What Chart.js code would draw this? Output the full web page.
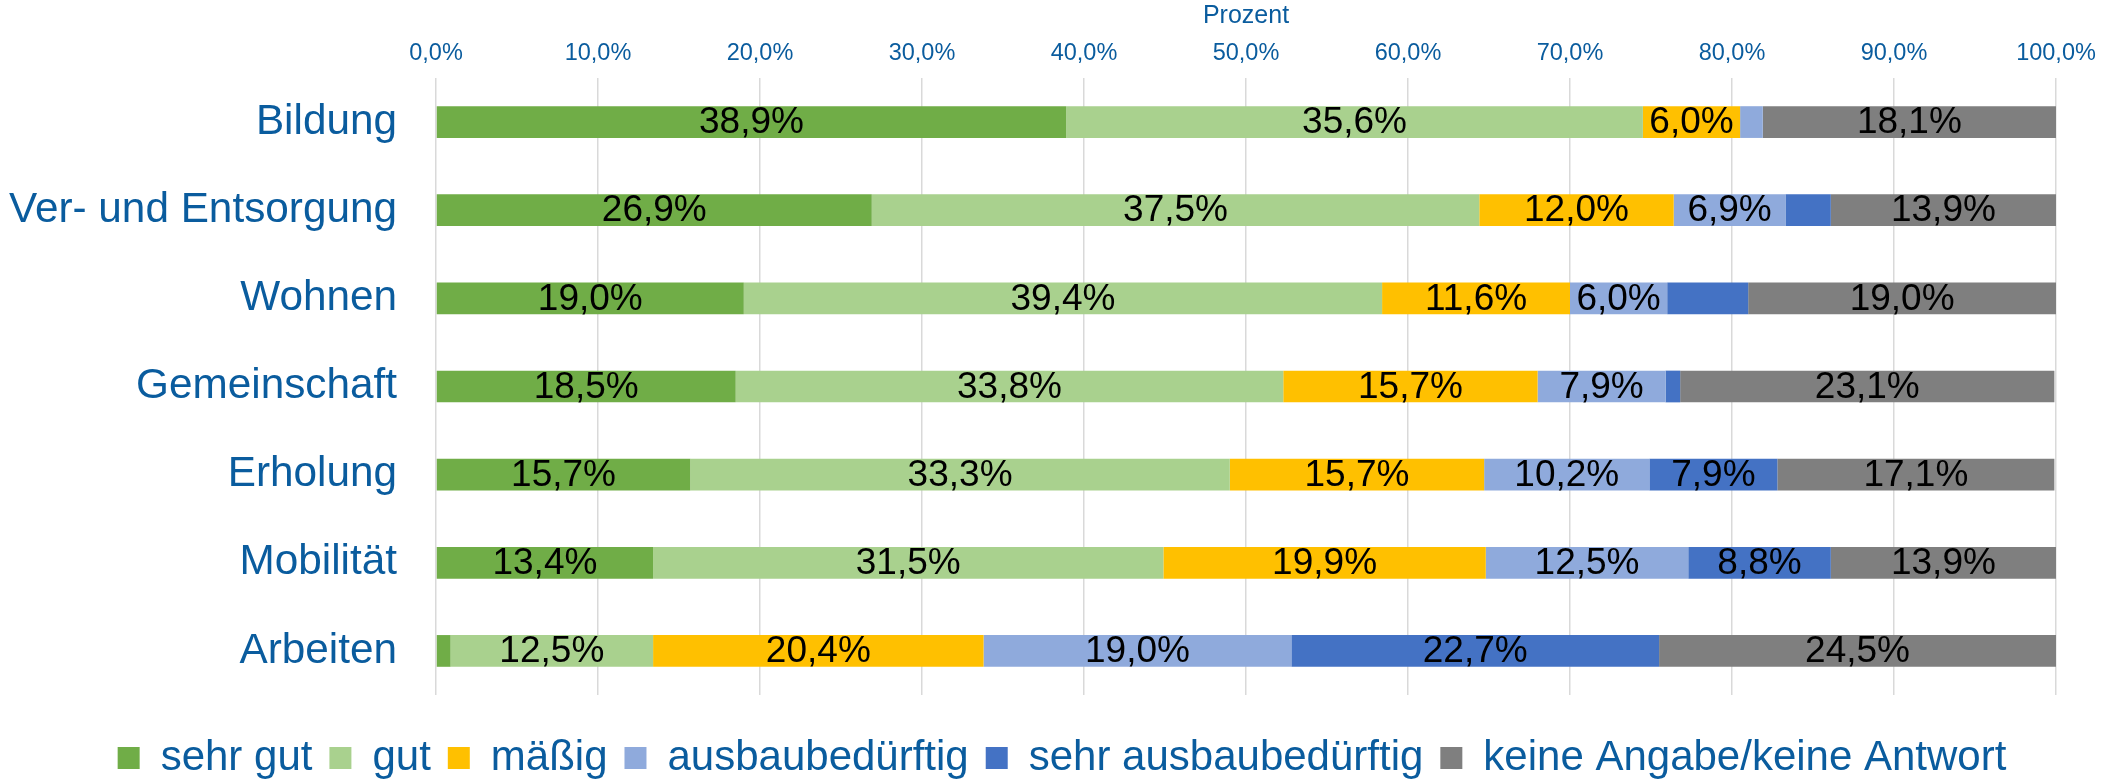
<!DOCTYPE html>
<html><head><meta charset="utf-8">
<script src="https://cdn.jsdelivr.net/npm/chart.js@4/dist/chart.umd.min.js"></script>
<style>html,body{margin:0;padding:0;background:#fff}#wrap{width:2101px;height:780px}</style>
</head><body><div id="wrap"><canvas id="c" width="2101" height="780"></canvas></div>
<script>
const categories = ['Bildung','Ver- und Entsorgung','Wohnen','Gemeinschaft','Erholung','Mobilität','Arbeiten'];
const seriesNames = ['sehr gut','gut','mäßig','ausbaubedürftig','sehr ausbaubedürftig','keine Angabe/keine Antwort'];
const sehrGut     = [38.9, 26.9, 19.0, 18.5, 15.7, 13.4, 0.9];
const gut         = [35.6, 37.5, 39.4, 33.8, 33.3, 31.5, 12.5];
const maessig     = [6.0, 12.0, 11.6, 15.7, 15.7, 19.9, 20.4];
const ausbau      = [1.4, 6.9, 6.0, 7.9, 10.2, 12.5, 19.0];
const sehrAusbau  = [0.0, 2.8, 5.0, 0.9, 7.9, 8.8, 22.7];
const keineAngabe = [18.1, 13.9, 19.0, 23.1, 17.1, 13.9, 24.5];
const xTickLabels = ['0,0%','10,0%','20,0%','30,0%','40,0%','50,0%','60,0%','70,0%','80,0%','90,0%','100,0%'];
const axisTitle = 'Prozent';

const seriesValues = [sehrGut, gut, maessig, ausbau, sehrAusbau, keineAngabe];
const seriesColors = ['#70AD47','#A9D18E','#FFC000','#8FAADC','#4472C4','#7F7F7F'];
const BLUE = '#0A5C9E';
const FONT = '"Liberation Sans", Arial, sans-serif';

const labelPlugin = {
  id: 'barLabels',
  afterDatasetsDraw(chart) {
    const ctx = chart.ctx;
    ctx.save();
    ctx.font = '37px ' + FONT;
    ctx.fillStyle = '#000';
    ctx.textAlign = 'center';
    ctx.textBaseline = 'middle';
    chart.data.datasets.forEach((ds, i) => {
      const meta = chart.getDatasetMeta(i);
      meta.data.forEach((el, j) => {
        const v = ds.data[j];
        if (v < 5.5) return;
        const p = el.getProps(['x', 'base', 'y'], true);
        ctx.fillText(v.toFixed(1).replace('.', ',') + '%', (p.x + p.base) / 2, p.y + 1);
      });
    });
    ctx.restore();
  }
};

const legendShift = {
  id: 'legendShift',
  afterLayout(chart) {
    if (chart.legend) { chart.legend.left += 34; chart.legend.right += 34; }
  }
};

new Chart(document.getElementById('c'), {
  type: 'bar',
  data: {
    labels: categories,
    datasets: seriesNames.map((n, i) => ({
      label: n,
      data: seriesValues[i],
      backgroundColor: seriesColors[i],
      borderWidth: 0,
      barPercentage: 0.36,
      categoryPercentage: 1.0
    }))
  },
  options: {
    indexAxis: 'y',
    responsive: false,
    animation: false,
    devicePixelRatio: 1,
    layout: { padding: { left: 0, right: 45, top: 0, bottom: -9 } },
    scales: {
      x: {
        type: 'linear', position: 'top', stacked: true, min: 0, max: 100,
        ticks: {
          stepSize: 10, color: BLUE, font: { size: 23.5, family: FONT }, padding: 10,
          callback: (v) => xTickLabels[Math.round(v / 10)]
        },
        grid: { color: '#D9D9D9', lineWidth: 1.5, drawTicks: false },
        border: { display: false },
        title: { display: true, text: axisTitle, color: BLUE, font: { size: 25, family: FONT }, padding: { top: 1, bottom: 4 } },
        afterFit: (s) => { s.height = 78; s.paddingLeft = 0; s.paddingRight = 0; }
      },
      xSpacer: {
        type: 'linear', position: 'bottom', display: true,
        grid: { display: false }, border: { display: false }, ticks: { display: false },
        afterFit: (s) => { s.height = 25; s.paddingLeft = 0; s.paddingRight = 0; }
      },
      y: {
        type: 'category', stacked: true,
        ticks: { color: BLUE, font: { size: 42.3, family: FONT }, padding: 39 },
        grid: { display: false, drawTicks: false },
        border: { display: false },
        afterFit: (s) => { s.width = 436; }
      }
    },
    plugins: {
      legend: {
        position: 'bottom',
        labels: { color: BLUE, font: { size: 42, family: FONT }, boxWidth: 22, boxHeight: 22, padding: 17 }
      },
      tooltip: { enabled: false }
    }
  },
  plugins: [labelPlugin, legendShift]
});
</script>
</body></html>
